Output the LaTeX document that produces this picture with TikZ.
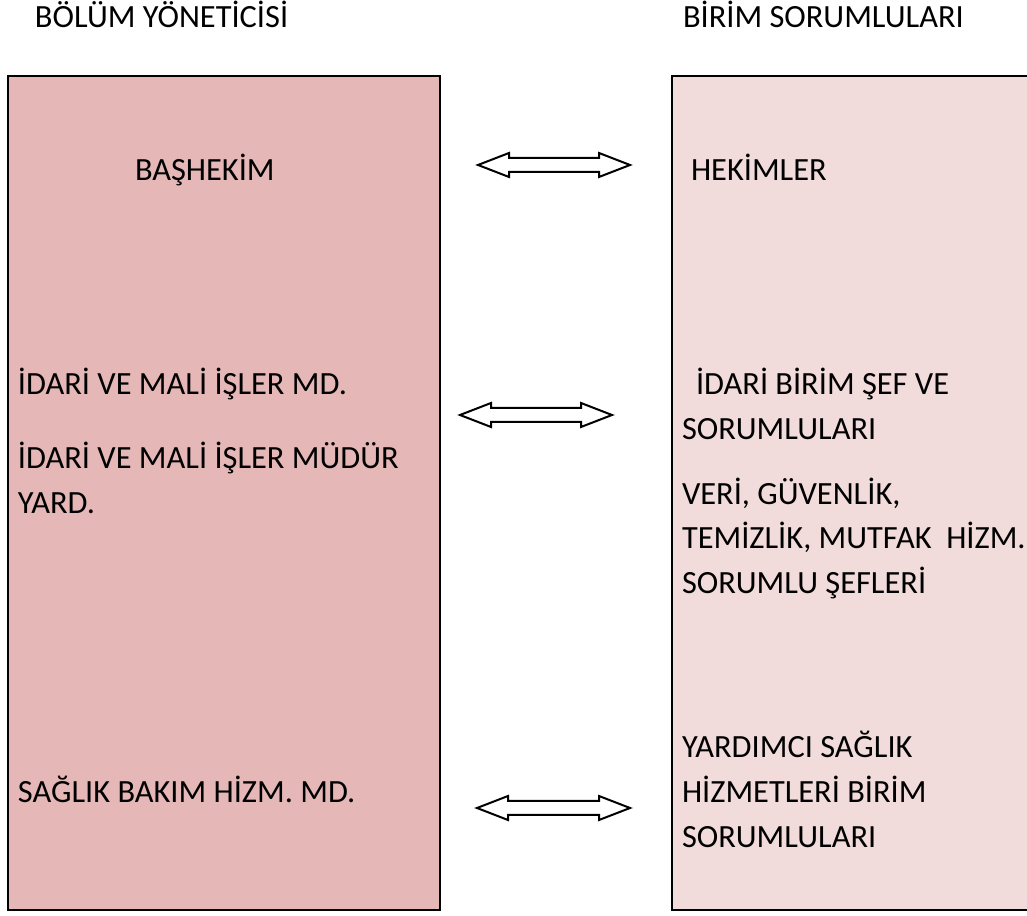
\documentclass[tikz,border=0pt]{standalone}
\usepackage{fontspec}
\setmainfont{Carlito}
\definecolor{leftfill}{HTML}{E5B8B7}
\definecolor{rightfill}{HTML}{F2DBDB}
\newcommand{\dblarrow}[4]{% name, left tip x, right tip x, y
  \coordinate (#1) at ({(#2+#3)/2},#4);
  \draw[arrowshape] (#2,#4) -- (#2+31,#4-12) -- (#2+31,#4-7) -- (#3-31,#4-7) -- (#3-31,#4-12)
    -- (#3,#4) -- (#3-31,#4+12) -- (#3-31,#4+7) -- (#2+31,#4+7) -- (#2+31,#4+12) -- cycle;
}
\begin{document}
\begin{tikzpicture}[x=0.25pt,y=-0.25pt,
  panel/.style={line width=0.6pt, draw=black},
  arrowshape/.style={line width=0.5pt, draw=black, fill=white, line join=miter},
  lbl/.style={anchor=base west, inner sep=0pt, outer sep=0pt, font=\fontsize{8.1}{11.25}\selectfont}]
\useasboundingbox (0,0) rectangle (1027,916);
\clip (0,0) rectangle (1027,916);
% panels
\draw[panel, fill=leftfill] (8,76) rectangle (440,910);
\draw[panel, fill=rightfill] (672,76) rectangle (1060,910);
% headers
\node[lbl] (hdrL) at (35,28) {BÖLÜM YÖNETİCİSİ};
\node[lbl] (hdrR) at (683,28) {BİRİM SORUMLULARI};
% left texts
\node[lbl] (bas) at (135,181) {BAŞHEKİM};
\node[lbl] (idmd) at (18,395) {İDARİ VE MALİ İŞLER MD.};
\node[lbl] (idyrd1) at (18,469) {İDARİ VE MALİ İŞLER MÜDÜR};
\node[lbl] (idyrd2) at (18,514) {YARD.};
\node[lbl] (sbh) at (18,803) {SAĞLIK BAKIM HİZM. MD.};
% right texts
\node[lbl] (hek) at (691,181) {HEKİMLER};
\node[lbl] (ibs1) at (696,395) {İDARİ BİRİM ŞEF VE};
\node[lbl] (ibs2) at (682,440) {SORUMLULARI};
\node[lbl] (veri1) at (682,505) {VERİ, GÜVENLİK,};
\node[lbl] (veri2) at (682,549) {TEMİZLİK, MUTFAK\ \ HİZM.};
\node[lbl] (veri3) at (682,594) {SORUMLU ŞEFLERİ};
\node[lbl] (yrd1) at (682,758) {YARDIMCI SAĞLIK};
\node[lbl] (yrd2) at (682,803) {HİZMETLERİ BİRİM};
\node[lbl] (yrd3) at (682,848) {SORUMLULARI};
% double arrows
\dblarrow{arr1}{478}{630}{165}
\dblarrow{arr2}{460}{612}{415}
\dblarrow{arr3}{477}{630}{808}
\end{tikzpicture}
\end{document}
